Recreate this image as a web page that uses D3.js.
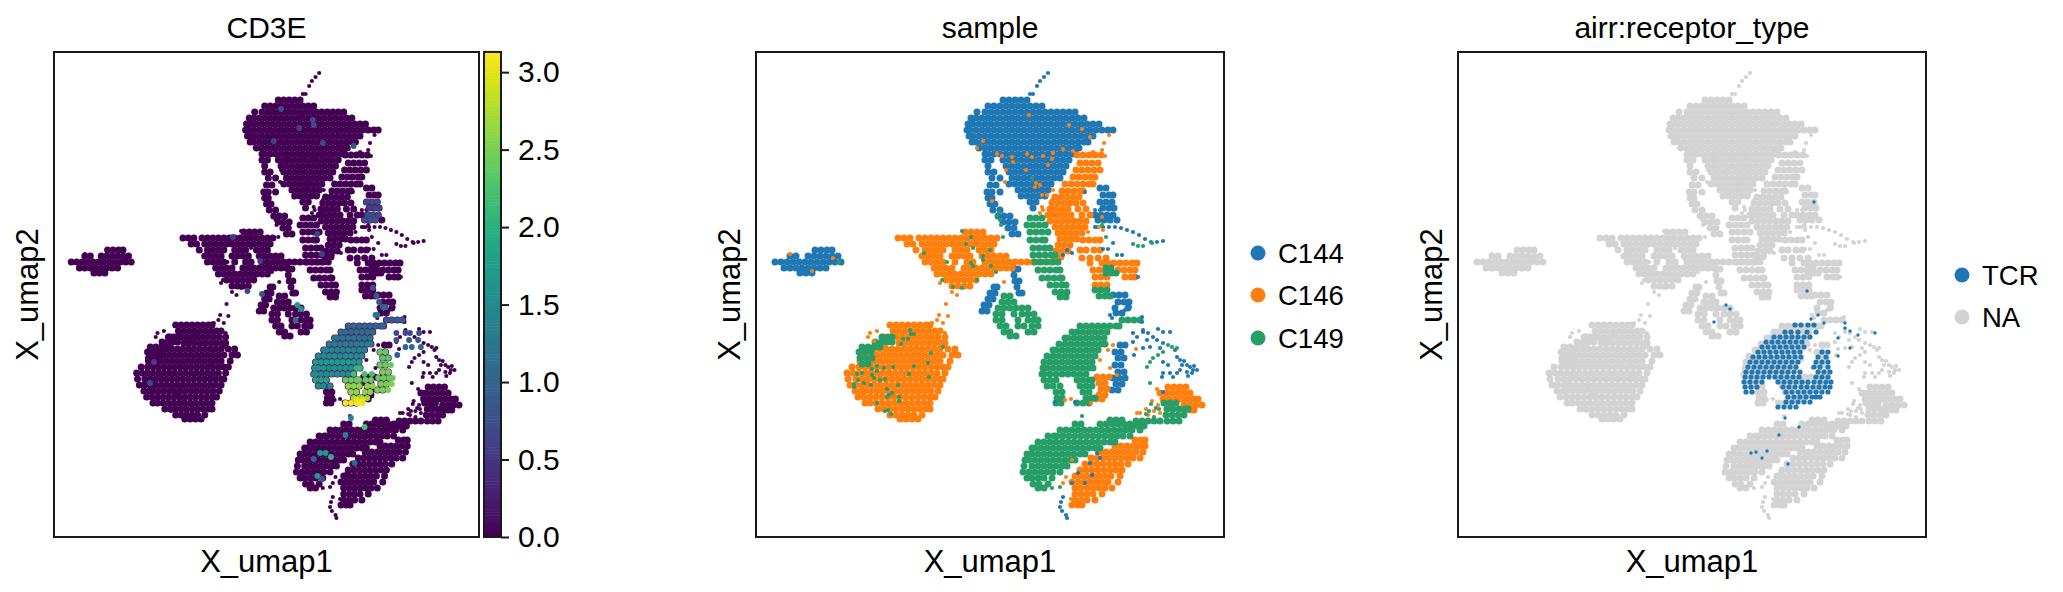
<!DOCTYPE html>
<html>
<head>
<meta charset="utf-8">
<script src="https://cdn.jsdelivr.net/npm/d3@7"></script>
<style>
  body { margin: 0; background: #fff; }
  text { font-family: "Liberation Sans", Arial, sans-serif; fill: #000; }
</style>
</head>
<body>
<div id="chart"></div>
<script>
// umap positions, rows are [umap2, umap1, umap1, ...]
var rowsC144 = [
  [437,247,253,259,265,271],
  [431,232,238,244,250,256,262,268,274,280,286],
  [425,221,229,235,241,247,253,259,265,271,277,283,289,295,301,307,313,319],
  [419,215,220,226,232,238,244,250,256,262,268,274,280,286,292,298,304,310,316,322,328],
  [413,212,217,223,229,235,241,247,253,259,265,271,277,283,289,295,301,307,313,319,325,331,337,343],
  [407,211,214,220,226,232,238,244,250,256,262,268,274,280,286,292,298,304,310,316,322,328,334,340,346,352,357],
  [401,213,217,223,229,235,241,247,253,259,265,271,277,283,289,295,301,307,313,319,325,331,337],
  [395,216,220,226,232,238,244,250,256,262,268,274,280,286,292,298,304,310,316,322,328,332],
  [389,223,229,235,241,247,253,259,265,271,277,283,289,295,301,307,313,319,323],
  [383,229,232,238,244,250,256,262,268,274,280,286,292,298,304,310,316,320],
  [377,229,235,247,253,259,265,271,277,283,289,295,301,307,313],
  [371,232,250,256,262,268,274,280,286,292,298,304,310],
  [365,232,238,253,259,265,271,277,283,289,295,301,307],
  [359,236,244,256,262,268,274,280,286,292,298,304],
  [353,253,259,265,271,277,283,289,295],
  [347,262,268,274,280,286,292],
  [341,265,271,277,283,289],
  [335,274,280],
  [329,277],
  [352,234,240],[345,231,236,244],[339,232,236],[333,234,239],[327,237,244],[321,242,248,254],[315,247,253,259],[309,252,258],[303,256,262],
  [287,59,65,71,76],
  [281,34,40,52,58,64,70,76,82],
  [275,19,25,31,37,43,49,55,61,67,73,79,85],
  [269,28,34,40,46,52,58,64,70],
  [264,44,50,56],
  [349,344,350],[342,347,353,357],[335,344,350,356],[329,347,353,358],[322,339,345,351,357],[317,342,348,354,361],
  [274,257],[268,258,262],[262,258],[256,259,263],[250,238,241,261],[244,234,239,263,266],[238,232,237],[232,228,233],[226,226,231],
  [242,357,363,369],[235,362,368,373],[229,359,372],[224,360,366],
  [192,364,369],[185,359,365],[179,362,368],[172,359,365],[165,362,368],[159,357,363,369],[153,360,366],[147,356,362]
];
var rowsC146 = [
  [382,321,327,333,339,345],
  [374,324,330,336,342],
  [367,320,326,332,338,344],
  [360,317,323,329,335,339],
  [353,309,315,321,327,333,337],
  [346,306,312,318,324,327],
  [340,299,305,311,317,323],
  [334,296,302,308,314,320,327],
  [328,294,300,306,312,322,330],
  [322,292,297,303,309,315,326,334],
  [316,294,300,306,312,318,324,330],
  [310,299,305,311,317,323,329],
  [304,302,308,314,320,326],
  [298,304,310,316,321],
  [292,302,308,314],
  [286,300,306,312],
  [280,299,305],
  [305,209,215,221,227],
  [299,142,148,154,163,169,175,181,187,193,199,205,211,217,223,229,235,241],
  [293,151,157,166,172,178,184,190,196,202,208,214,220,226,232,238],
  [287,160,169,175,181,187,199,205,211,223,229,235],
  [281,166,172,178,184,196,202,208,214,226,232,238,244,250],
  [275,169,175,181,187,199,211,217,229,235,241,247,253,259,265,271,277,283,289,295],
  [269,178,184,190,196,208,214,220,226,232,238,244,250,256],
  [263,181,187,193,199,205,211,217,223,229,235],
  [257,190,196,202,208,214,220],
  [251,196,202,208,214],
  [297,327,333,339,344],[287,324,330,338,344],[279,326,334,342,350],
  [274,334,346,352,358,364,370,376,381],[267,337,343,349,362,368,374,379],[260,339,345,351,369,375,379],[252,339,345,351],
  [212,134,140,146,152,158,164,170,174],
  [206,137,143,149,155,161,167,173,179,184],
  [200,128,140,146,152,158,164,170,176,182,189],
  [194,128,143,149,155,161,167,173,179,185,189],
  [188,118,124,130,136,142,148,154,160,166,172,178,184,192,199],
  [182,109,115,121,127,133,139,145,151,157,163,169,175,181,187,196,202],
  [176,104,112,118,124,130,136,142,148,154,160,166,172,178,184,194],
  [170,96,103,109,115,121,127,133,139,145,151,157,163,169,175,181,187,192],
  [164,91,97,103,109,115,121,127,133,139,145,151,157,163,169,175,181,189],
  [158,92,100,106,112,118,124,130,136,142,148,154,160,166,172,178,184,187],
  [152,94,100,106,112,118,124,130,136,142,148,154,160,166,172,178,184],
  [146,99,105,109,115,121,127,133,139,145,151,157,163,169,175,182],
  [140,102,108,114,120,126,132,138,144,150,156,162,168,174,179],
  [134,109,114,120,126,132,138,144,150,156,162,168,174],
  [128,122,128,134,140,146,152,158,164,170,174],
  [122,134,140,146,152,158,166],
  [118,144,150,156,162],
  [160,341,347,353],[154,343,349],[148,345,351],[142,343,349],[138,340,346],
  [150,412,418,424,430],[144,404,410,416,422,428,434],[138,407,413,419,425,431,437,442],[132,416,428,434,440,446],[127,428,434,438],
  [97,379,385,389],
  [91,359,365,371,377,383,389],
  [85,344,350,356,362,368,374,380,387],
  [79,335,341,347,353,359,365,371,377,384],
  [73,329,335,341,347,353,359,365,372],
  [67,324,330,336,342,348,354,360,366],
  [61,319,325,331,337,343,349,355,364],
  [55,316,322,328,334,340,346,352,362],
  [49,319,325,331,337,343,349,356],
  [43,319,325,331,337,346],
  [37,319,325,331,339],
  [32,316,322,326]
];
var rowsC149 = [
  [319,274,280,286],[312,271,277,283,289],[305,274,280,286,292],[297,274,280,286,289],[289,277,283,289,294],
  [282,277,283,289,295,299],[275,279,285,291,297,302],[267,282,288,294,300,304],[259,286,292,298,304,306],
  [252,294,300,306,310],[245,299,305,311],[240,304,310],
  [241,248,254],[235,246,252,258],[229,242,248,254,260,266,272],[223,240,246,258,266,272,278],
  [217,240,246,262,272,278,282],[211,244,250,262,268,276,282],[205,248,254,272,278],[201,254,260],
  [269,350,355],[264,350,356,360],[247,339,345,351],[241,343,349,354],
  [217,366,372,378,384],
  [211,324,330,336,342,348,354,360,363],
  [205,316,321,327,333,339,345,351],
  [199,309,312,318,324,330,336,342,348],
  [193,303,309,315,321,327,333,339,345,349],
  [187,297,300,306,312,318,324,330,336,342],
  [181,291,297,303,309,315,321,327,333,339],
  [175,288,294,300,306,312,318,324,330,336],
  [169,287,291,297,303,309,315,321,327,333,337],
  [163,286,288,294,300,306,312,318,324,330],
  [157,288,294,300,321,327,333,336],
  [151,291,297,304,324,330,336],
  [145,300,306,327,333],
  [139,301,306,330,336,339],
  [134,300,305,321,327,333],
  [134,408,414,420],[128,411,417,423,429,432],[122,410,416,422,428],[116,380,386,392,398,404,411,417,423],[111,370,376,382,388],
  [117,354,360,366],
  [113,319,325,344,350,356,362,368,374],
  [107,304,310,316,322,328,334,340,346,352,358,364,370,376,384],
  [101,292,298,301,307,313,319,325,331,337,343,349,355,361,367,374],
  [95,282,288,294,300,306,312,318,324,330,336,342,348,354,359],
  [89,276,279,285,291,297,303,309,315,321,327,333,339,344],
  [83,271,276,282,288,294,300,306,312,318,324,329],
  [77,269,273,279,285,291,297,303,309,315,319],
  [71,268,276,282,288,294,300,306,311],
  [65,267,273,279,285,291,297,304],
  [59,271,276,282,288,296],
  [53,277,283,292],
  [49,282,288],
  [200,126,132,136],[195,119,125,131,136],[190,106,112,118,124],[185,103,109,115],[179,104,110,116],[173,106,112]
];

// single cells lying on top of the masses, [umap1, umap2]
var strayC144 = [[292,464],[288,460],[284,456],[281,451],[274,443],[277,443],
  [341,310],[347,310],[353,310],[359,310],[365,309],[371,307],[377,305],[383,302],[389,298],[395,295],[401,295],[407,296],
  [377,204],[381,200],[377,195],[378,182],[387,205],[392,204],[402,208],[407,205],[414,205],[397,200],[391,197],[401,197],[407,194],
  [387,189],[394,190],[404,189],[419,187],[421,180],[424,177],[426,172],[431,172],[434,170],[437,167],[441,167],[431,165],[436,164],
  [424,167],[421,164],[414,164],[407,164],[406,160],[417,160],[412,172],[407,175],[428,176],[438,171],[432,161],
  [307,40],[305,35],[304,30],[306,26],[310,22],[311,19],
  [322,64],[336,62],[329,54],[341,84],[344,79],[334,74],[316,54],[299,135],[319,135],[407,145],
  [374,230],[369,227],[354,222],[356,219],[386,220],[386,215],[387,207],
  [329,345],[339,310],[346,320],[352,322],[357,322],[344,327],[339,327],[311,287],[316,284],[307,282],
  [347,288],[352,288],[357,294],[361,282],[366,282],[382,260]];
var strayC146 = [[34,283],[77,279],[56,266],
  [227,396],[221,389],[241,383],[246,381],[250,367],[249,355],[236,336],
  [273,422],[313,412],[326,408],[334,400],[353,402],[348,394],[346,387],[337,385],[307,388],[317,386],[297,384],[271,383],[276,380],
  [287,381],[296,378],[256,380],[292,372],[270,367],[257,375],[280,354],[279,350],[284,352],[349,381],
  [184,254],[196,245],[201,242],[248,255],
  [114,204],[112,200],[121,206],[118,196],[190,233],[192,221],[183,222],[176,214],[181,217],[187,214],[189,204],[200,183],
  [344,177],[352,187],[357,192],[380,188],[354,169],[361,162],
  [310,60],[307,54],[316,77],[315,38],[309,137],[315,138],[335,134],[401,148],[381,124],
  [396,136],[402,132],[390,128],[398,126],[384,124],[392,122],[404,124],
  [286,342],[291,342],[286,330],[287,327],[284,324],[297,347],[296,337],[332,305],[343,310],[347,307],[346,320]];
var strayC149 = [[83,275],[276,359],
  [206,306],[215,300],[210,293],[217,289],[234,287],[227,281],[227,277],[215,274],[217,271],[235,271],[191,275],[168,284],[186,257],
  [197,250],[206,249],[221,257],[240,265],[247,300],[245,312],[243,325],[241,321],[244,317],
  [154,207],[155,203],[158,203],[147,198],[152,198],[145,193],[175,184],[187,190],[172,174],[158,171],[173,160],[153,163],[137,170],
  [128,169],[121,171],[121,166],[116,168],[116,162],[106,164],[101,163],[102,157],[118,159],[129,158],[124,157],[108,154],[115,152],
  [98,153],[98,150],[142,152],[131,148],[136,144],[133,142],[131,140],[143,140],[143,136],[121,134],[129,126],[132,127],[135,123],
  [391,170],[394,175],[397,179],[402,182],[407,185],[412,192],[416,190],[421,189],[377,293],[382,291],[387,291],[396,294],
  [395,133],[400,129],[393,126],[403,128],[390,123],[398,120],[296,49],[304,50],[312,70],[326,121],[394,154],[346,312],[350,300]];

// CD3E expression, rows are [value, umap2, umap1, umap1, ...]
var cd3eRows = [
  [0.9,217,366,372,378,384],[1.0,211,324,330,336,342,348,354,360,363],[1.1,205,316,321,327,333,339,345,351],
  [1.2,199,309,312,318,324,330,336,342,348],[1.3,193,303,309,315,321,327,333,339,345,349],
  [1.4,187,297,300,306,312,318,324,330,336,342],[1.5,181,291,297,303,309,315,321,327,333,339],
  [1.7,175,288,294,300,306,312,318,324,330,336],[1.6,169,287,291,297,303,309,315,321,327],[2.1,169,333,337],
  [1.5,163,286,288,294,300,306,312,318,324],[2.2,163,330],[1.8,157,288,294,300],[1.5,151,291,297,304],
  [2.4,185,359,365],[2.3,179,362,368],[2.4,172,359,365,371],[2.5,165,362,368],[2.4,159,357,363,369,373],
  [2.2,163,342,350],[2.4,157,321,327,333,336,343,349],[2.5,153,360,366,372],[2.6,151,324,330,336,345,351],
  [2.5,147,356,362,368],[2.6,145,327,333,342,348],[2.7,139,330,336,339,345],
  [3.1,134,321,327,333,336,340],[3.0,137,333,340],
  [0.7,204,377,387,392,402],[0.8,197,377,391,401],[1.0,190,387,394,404],[0.9,182,378],
  [0.7,335,344,350,356],[0.6,329,347,353,358],[0.7,322,345,351,357],[0.8,317,342,348,354],
  [0.8,249,351],[0.9,241,355],[0.8,235,358],[1.0,230,362,365],[1.2,222,354,356],
  [2.2,110,342],[1.4,119,327],[1.7,84,293],[1.7,84,299],[2.0,80,305],[1.0,78,286],[1.7,61,290],[0.8,58,295],[1.4,102,321],[1.0,74,331],
  [1.7,232,268],[1.6,228,272],[1.0,217,266],
  [0.7,428,250],[0.7,417,285],[0.7,412,286],[0.6,409,270],[0.6,396,242],[0.7,394,296],[0.8,391,330],
  [0.6,300,197],[0.6,276,227],[0.7,246,213],[0.8,243,229],[0.6,303,290],[0.6,283,295],[0.6,175,110],[0.7,154,106]
];

// TCR cells, rows are [umap2, umap1, umap1, ...]
var tcrRows = [
  [212,337,343,350,356],
  [205,327,333,340,349,358],
  [200,316,322,328,334,340,346,352],
  [195,308,314,320,326,332,338,344],
  [190,304,310,316,322,328,334,340,346],
  [185,300,306,312,318,324,330,336,342,364,370],
  [180,295,301,307,313,319,325,331,337,343,360,368],
  [175,292,298,304,310,316,322,328,334,340,358,364,370],
  [170,290,296,302,308,314,320,326,332,338,356,362,370],
  [165,288,294,300,306,312,318,324,330,336,342,360,366,372],
  [160,287,293,299,305,311,317,323,329,335,341,358,364,370],
  [155,286,292,298,304,320,326,332,338,344,350,356,362,368,373],
  [150,287,293,299,325,331,337,343,349,355,361,367,372],
  [145,288,294,328,334,340,346,352,358,364,370],
  [140,330,336,342,348,354,358,362],
  [135,328,334,340,346,352],
  [130,320,326,332,338]
];
var strayTcr = [[356,335],[349,246],[268,232],[272,228],[256,215],[327,119],[341,110],[321,102],[293,84],[298,85],[309,86],[304,79],[330,73],
  [387,214],[387,209],[392,206],[400,202],[417,204],[392,189],[380,181],[380,199],[360,222],[353,218],[366,214]];

var titles = ["CD3E", "sample", "airr:receptor_type"];
var sampleNames = ["C144", "C146", "C149"];
var sampleColors = ["#1f77b4", "#ff7f0e", "#279e68"];
var tcrNames = ["TCR", "NA"];
var tcrColors = ["#1f77b4", "#d3d3d3"];
var cbarTicks = [0, 0.5, 1, 1.5, 2, 2.5, 3];
var cbarMax = 3.13;

var svgWidth = 2063;
var svgHeight = 592;
var panelTop = 52;
var panelBottom = 537;
var panelLeft = [54, 756, 1458];
var panelRight = [479, 1224, 1926];
var massRadius = 3.5;
var strayRadius = 2.1;

var svg = d3.select("#chart").append("svg")
  .attr("width", svgWidth)
  .attr("height", svgHeight);

function expand(rows) {
  var out = [];
  rows.forEach(function (r) {
    r.slice(1).forEach(function (x) { out.push([x, r[0]]); });
  });
  return out;
}

var pointsC144 = expand(rowsC144);
var pointsC146 = expand(rowsC146);
var pointsC149 = expand(rowsC149);
var allBase = pointsC144.concat(pointsC146, pointsC149);
var allStray = strayC144.concat(strayC146, strayC149);

var yScale = d3.scaleLinear().domain([0, 485]).range([panelBottom, panelTop]);
var colorScale = d3.scaleSequential(d3.interpolateViridis).domain([0, cbarMax]);

function xScaleFor(i) {
  return d3.scaleLinear().domain([0, 468]).range([panelLeft[i], panelRight[i]]);
}

function drawPoints(xScale, data, color, r) {
  svg.append("g").selectAll("circle")
    .data(data)
    .enter()
    .append("circle")
    .attr("cx", d => xScale(d[0]))
    .attr("cy", d => yScale(d[1]))
    .attr("r", r)
    .attr("fill", color);
}

// frame, title, axis names
function drawFrame(i) {
  var g = svg.append("g");
  var left = panelLeft[i], right = panelRight[i];
  g.append("rect")
    .attr("x", left).attr("y", panelTop)
    .attr("width", right - left).attr("height", panelBottom - panelTop)
    .attr("fill", "none").attr("stroke", "#1a1a1a").attr("stroke-width", 2);
  g.append("text")
    .attr("x", (left + right) / 2).attr("y", 38)
    .attr("text-anchor", "middle").attr("font-size", 30)
    .text(titles[i]);
  g.append("text")
    .attr("x", (left + right) / 2).attr("y", 572)
    .attr("text-anchor", "middle").attr("font-size", 31)
    .text("X_umap1");
  g.append("text")
    .attr("transform", `translate(${left - 16}, ${(panelTop + panelBottom) / 2}) rotate(-90)`)
    .attr("text-anchor", "middle").attr("font-size", 31)
    .text("X_umap2");
}

function drawLegend(names, colors, cx, ys) {
  var color = d3.scaleOrdinal().domain(names).range(colors);
  var y = d3.scaleOrdinal().domain(names).range(ys);
  var g = svg.append("g");
  g.selectAll("circle").data(names).enter().append("circle")
    .attr("cx", cx).attr("cy", d => y(d)).attr("r", 7.5).attr("fill", d => color(d));
  g.selectAll("text").data(names).enter().append("text")
    .attr("x", cx + 20).attr("y", d => y(d) + 10).attr("font-size", 27.5).text(d => d);
}

// CD3E panel
var x0 = xScaleFor(0);
drawPoints(x0, allBase, colorScale(0), massRadius);
drawPoints(x0, allStray, colorScale(0), strayRadius);
var cd3ePoints = [];
cd3eRows.forEach(function (r) {
  r.slice(2).forEach(function (x) { cd3ePoints.push([x, r[1], r[0]]); });
});
svg.append("g").selectAll("circle")
  .data(cd3ePoints)
  .enter()
  .append("circle")
  .attr("cx", d => x0(d[0]))
  .attr("cy", d => yScale(d[1]))
  .attr("r", 2.9)
  .attr("fill", d => colorScale(d[2]));
drawFrame(0);

// colorbar
var cbarLeft = 484, cbarWidth = 17;
var cbarScale = d3.scaleLinear().domain([0, cbarMax]).range([panelBottom, panelTop]);
var cbar = svg.append("g");
cbar.selectAll("rect").data(d3.range(0, cbarMax, 0.02)).enter().append("rect")
  .attr("x", cbarLeft).attr("width", cbarWidth)
  .attr("y", d => cbarScale(d + 0.02)).attr("height", cbarScale(0) - cbarScale(0.02) + 0.5)
  .attr("fill", d => colorScale(d));
cbar.append("rect")
  .attr("x", cbarLeft).attr("y", panelTop).attr("width", cbarWidth).attr("height", panelBottom - panelTop)
  .attr("fill", "none").attr("stroke", "#1a1a1a").attr("stroke-width", 2);
var cbarAxis = svg.append("g")
  .attr("transform", `translate(${cbarLeft + cbarWidth}, 0)`)
  .call(d3.axisRight(cbarScale).tickValues(cbarTicks).tickFormat(d3.format(".1f")).tickSize(8).tickPadding(9));
cbarAxis.select(".domain").remove();
cbarAxis.selectAll("line").attr("stroke", "#1a1a1a").attr("stroke-width", 2);
cbarAxis.selectAll("text").attr("font-size", 30).attr("font-family", "Liberation Sans");

// sample panel
var x1 = xScaleFor(1);
drawPoints(x1, pointsC144, sampleColors[0], massRadius);
drawPoints(x1, pointsC146, sampleColors[1], massRadius);
drawPoints(x1, pointsC149, sampleColors[2], massRadius);
drawPoints(x1, strayC144, sampleColors[0], strayRadius);
drawPoints(x1, strayC146, sampleColors[1], strayRadius);
drawPoints(x1, strayC149, sampleColors[2], strayRadius);
drawFrame(1);
drawLegend(sampleNames, sampleColors, 1258, [253, 295, 338]);

// receptor panel
var x2 = xScaleFor(2);
drawPoints(x2, allBase, tcrColors[1], massRadius);
drawPoints(x2, allStray, tcrColors[1], strayRadius);
drawPoints(x2, expand(tcrRows), tcrColors[0], 2.6);
drawPoints(x2, strayTcr, tcrColors[0], 1.7);
drawFrame(2);
drawLegend(tcrNames, tcrColors, 1962, [275, 317]);
</script>
</body>
</html>
